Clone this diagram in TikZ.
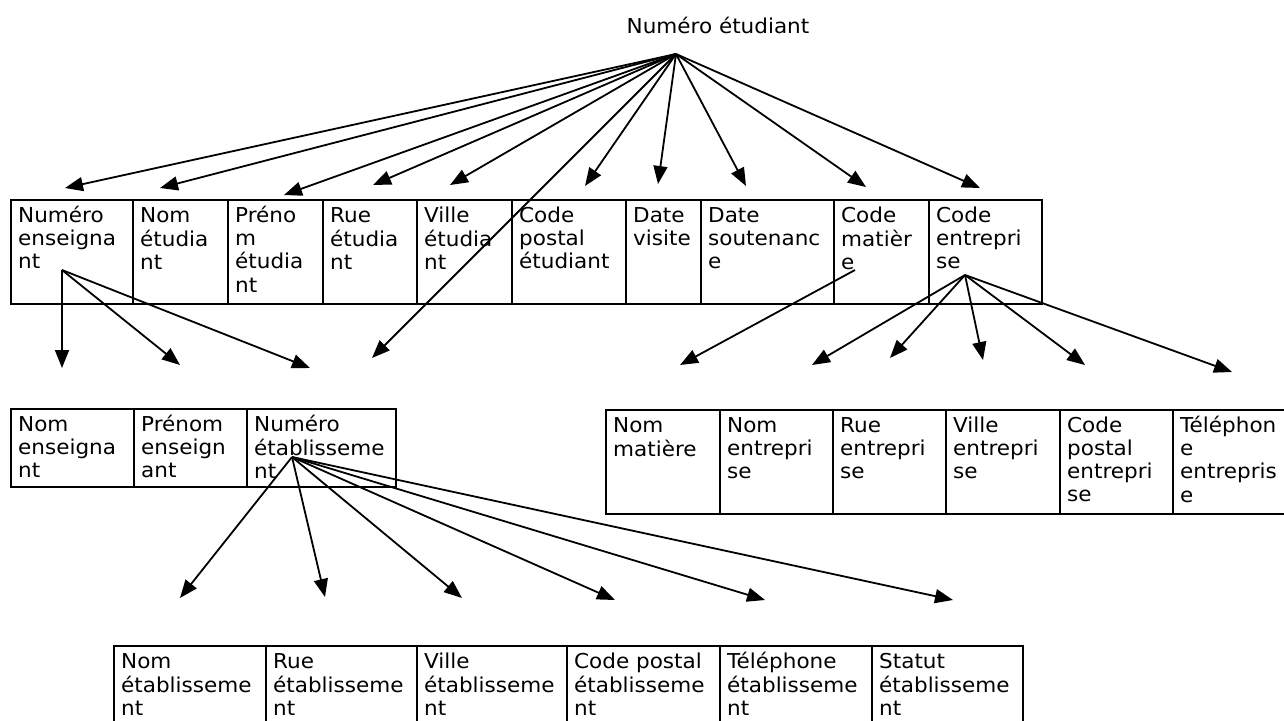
\documentclass[tikz,border=0pt]{standalone}
\usepackage{fontspec}
\setmainfont[FakeStretch=1.05]{DejaVu Sans}
\usetikzlibrary{arrows.meta}
\newcommand\cellfont{\fontsize{20.5}{23.3}\selectfont}
\tikzset{
  tbl/.style={line width=2.4pt},
  txt/.style={anchor=north west, inner sep=0pt, align=left, font=\cellfont},
  arr/.style={line width=1.8pt, -{Triangle[length=18pt,width=14pt]}},
}
\newcommand\cellbox[6]{%
  \draw[tbl] (#2,#3) rectangle (#4,#5);
  \node[txt] (#1) at (#2+7,#3+5.5) {\strut #6};
}
\begin{document}
\begin{tikzpicture}[x=1pt,y=-1pt]
\clip (0,0) rectangle (1284,720);
\useasboundingbox (0,0) rectangle (1284,720);

% title
\node[anchor=base, inner sep=0pt, font=\cellfont] (ne) at (718,33) {Numéro étudiant};

% top table
\cellbox{t1}{11}{200}{133}{304}{Numéro\\enseigna\\nt}
\cellbox{t2}{133}{200}{228}{304}{Nom\\étudia\\nt}
\cellbox{t3}{228}{200}{323}{304}{Préno\\m\\étudia\\nt}
\cellbox{t4}{323}{200}{417}{304}{Rue\\étudia\\nt}
\cellbox{t5}{417}{200}{512}{304}{Ville\\étudia\\nt}
\cellbox{t6}{512}{200}{626}{304}{Code\\postal\\étudiant}
\cellbox{t7}{626}{200}{701}{304}{Date\\visite}
\cellbox{t8}{701}{200}{834}{304}{Date\\soutenanc\\e}
\cellbox{t9}{834}{200}{929}{304}{Code\\matièr\\e}
\cellbox{t10}{929}{200}{1042}{304}{Code\\entrepri\\se}

% middle left table
\cellbox{m1}{11}{409}{134}{487}{Nom\\enseigna\\nt}
\cellbox{m2}{134}{409}{247}{487}{Prénom\\enseign\\ant}
\cellbox{m3}{247}{409}{396}{487}{Numéro\\établisseme\\nt}

% middle right table
\cellbox{r1}{606}{410}{720}{514}{Nom\\matière}
\cellbox{r2}{720}{410}{833}{514}{Nom\\entrepri\\se}
\cellbox{r3}{833}{410}{946}{514}{Rue\\entrepri\\se}
\cellbox{r4}{946}{410}{1060}{514}{Ville\\entrepri\\se}
\cellbox{r5}{1060}{410}{1173}{514}{Code\\postal\\entrepri\\se}
\cellbox{r6}{1173}{410}{1295}{514}{Téléphon\\e\\entrepris\\e}

% bottom table
\cellbox{b1}{114}{646}{266}{760}{Nom\\établisseme\\nt}
\cellbox{b2}{266}{646}{417}{760}{Rue\\établisseme\\nt}
\cellbox{b3}{417}{646}{567}{760}{Ville\\établisseme\\nt}
\cellbox{b4}{567}{646}{720}{760}{Code postal\\établisseme\\nt}
\cellbox{b5}{720}{646}{872}{760}{Téléphone\\établisseme\\nt}
\cellbox{b6}{872}{646}{1023}{760}{Statut\\établisseme\\nt}

% connector end points
\coordinate (s0) at (676,54);
\coordinate (s1) at (62,270);
\coordinate (s2) at (855,270);
\coordinate (s3) at (965,275);
\coordinate (s4) at (292,457);

\foreach \n/\p in {a1/{65,188},a2/{160,188},a3/{284,195},a4/{373,185},a5/{450,185},
  a6/{585,186},a7/{658,184},a8/{746,186},a9/{866,187},a10/{980,188},a11/{372,358}}
  {\coordinate (\n) at (\p);}
\foreach \n in {a1,a2,a3,a4,a5,a6,a7,a8,a9,a10,a11} {\draw[arr] (s0) -- (\n);}

\coordinate (e1) at (62,368);
\coordinate (e2) at (180,365);
\coordinate (e3) at (310,368);
\foreach \n in {e1,e2,e3} {\draw[arr] (s1) -- (\n);}

\coordinate (c1) at (680,365);
\draw[arr] (s2) -- (c1);

\foreach \n/\p in {d1/{812,365},d2/{890,358},d3/{983,360},d4/{1085,365},d5/{1232,372}}
  {\coordinate (\n) at (\p);}
\foreach \n in {d1,d2,d3,d4,d5} {\draw[arr] (s3) -- (\n);}

\foreach \n/\p in {f1/{180,598},f2/{325,597},f3/{462,598},f4/{615,600},f5/{765,600},f6/{953,600}}
  {\coordinate (\n) at (\p);}
\foreach \n in {f1,f2,f3,f4,f5,f6} {\draw[arr] (s4) -- (\n);}
\end{tikzpicture}
\end{document}
